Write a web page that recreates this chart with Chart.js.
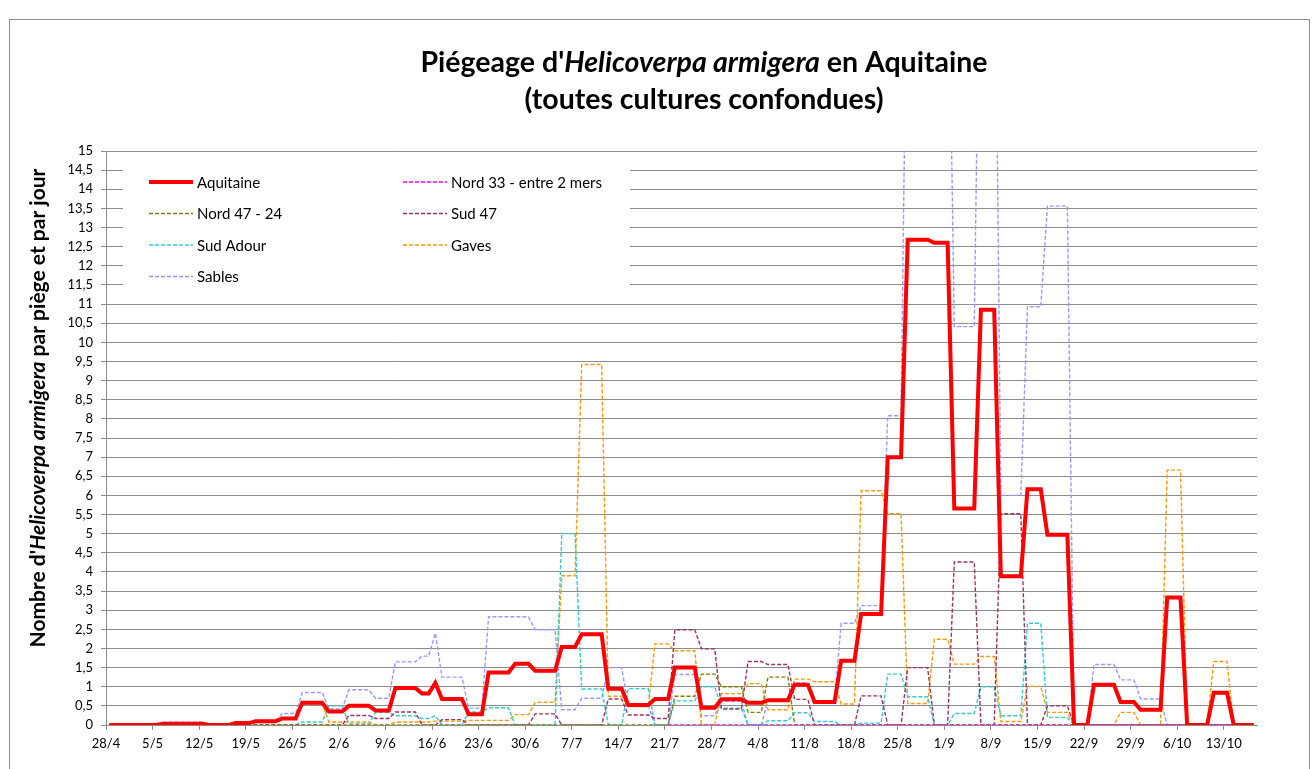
<!DOCTYPE html>
<html>
<head>
<meta charset="utf-8">
<script src="https://cdn.jsdelivr.net/npm/chart.js@4.4.0/dist/chart.umd.min.js"></script>
<style>
  body { margin: 0; background: #fff; }
  #wrap { width: 1316px; height: 769px; }
</style>
</head>
<body>
<div id="wrap"><canvas id="myChart" width="1316" height="769"></canvas></div>
<script>
// day 0 = 28/4, one point per day, [day, value] at each change of level
const weekLabels = ['28/4', '5/5', '12/5', '19/5', '26/5', '2/6', '9/6', '16/6', '23/6', '30/6',
    '7/7', '14/7', '21/7', '28/7', '4/8', '11/8', '18/8', '25/8', '1/9', '8/9', '15/9',
    '22/9', '29/9', '6/10', '13/10'];

const seriesNames = ['Aquitaine', 'Nord 33 - entre 2 mers', 'Nord 47 - 24', 'Sud 47', 'Sud Adour', 'Gaves', 'Sables'];

const aquitaine = [[0,0],[7,0],[8,0.03],[14,0.03],[15,0],[18,0],[19,0.05],[21,0.05],[22,0.1],[25,0.1],
    [26,0.17],[28,0.17],[29,0.58],[32,0.58],[33,0.35],[35,0.35],[36,0.5],[39,0.5],[40,0.38],[42,0.38],
    [43,0.97],[46,0.97],[47,0.82],[48,0.82],[49,1.1],[50,0.68],[53,0.68],[54,0.28],[56,0.28],[57,1.37],
    [60,1.37],[61,1.6],[63,1.6],[64,1.42],[67,1.42],[68,2.04],[70,2.04],[71,2.37],[74,2.37],[75,0.95],
    [77,0.95],[78,0.52],[81,0.52],[82,0.68],[84,0.68],[85,1.5],[88,1.5],[89,0.45],[91,0.45],[92,0.67],
    [95,0.67],[96,0.58],[98,0.58],[99,0.65],[102,0.65],[103,1.05],[105,1.05],[106,0.6],[109,0.6],
    [110,1.68],[112,1.68],[113,2.9],[116,2.9],[117,7.0],[119,7.0],[120,12.68],[123,12.68],[124,12.6],
    [126,12.6],[127,5.66],[130,5.66],[131,10.85],[133,10.85],[134,3.89],[137,3.89],[138,6.16],[140,6.16],
    [141,4.97],[144,4.97],[145,0],[147,0],[148,1.05],[151,1.05],[152,0.6],[154,0.6],[155,0.4],[158,0.4],
    [159,3.33],[161,3.33],[162,0],[165,0],[166,0.84],[168,0.84],[169,0],[172,0]];

const nord33 = [[84,0],[172,0]];

const nord4724 = [[0,0],[84,0],[85,0.75],[88,0.75],[89,1.33],[91,1.33],[92,1.0],[95,1.0],[96,0.33],
    [98,0.33],[99,1.25],[102,1.25],[103,0],[172,0]];

const sud47 = [[0,0],[35,0],[36,0.25],[39,0.25],[40,0.17],[42,0.17],[43,0.34],[46,0.34],[47,0],[49,0],
    [50,0.14],[53,0.14],[54,0],[63,0],[64,0.29],[67,0.29],[68,0],[74,0],[75,0.68],[77,0.68],[78,0.26],
    [81,0.26],[82,0.17],[84,0.17],[85,2.49],[88,2.49],[89,1.99],[91,1.99],[92,0.42],[95,0.42],[96,1.66],
    [98,1.66],[99,1.58],[102,1.58],[103,0.67],[105,0.67],[106,0],[112,0],[113,0.76],[116,0.76],[117,0],
    [119,0],[120,1.5],[123,1.5],[124,0],[126,0],[127,4.26],[130,4.26],[131,0],[133,0],[134,5.52],
    [137,5.52],[138,0],[140,0],[141,0.5],[144,0.5],[145,0],[172,0]];

const sudAdour = [[0,0],[28,0],[29,0.08],[32,0.08],[33,0.5],[35,0.5],[36,0.03],[39,0.03],[40,0.33],
    [42,0.33],[43,0.24],[46,0.24],[47,0.17],[48,0.17],[49,0.24],[50,0],[53,0],[54,0.34],[56,0.34],
    [57,0.45],[60,0.45],[61,0],[67,0],[68,5.0],[70,5.0],[71,0.94],[74,0.94],[75,0],[77,0],[78,0.95],
    [81,0.95],[82,0],[84,0],[85,0.63],[88,0.63],[89,1.0],[91,1.0],[92,0.44],[95,0.44],[96,0],[98,0],
    [99,0.11],[102,0.11],[103,0.32],[105,0.32],[106,0.09],[109,0.09],[110,0],[112,0],[113,0.05],
    [116,0.05],[117,1.33],[119,1.33],[120,0.74],[123,0.74],[124,0],[126,0],[127,0.3],[130,0.3],
    [131,1.0],[133,1.0],[134,0.24],[137,0.24],[138,2.66],[140,2.66],[141,0.2],[144,0.2],[145,0],[172,0]];

const gaves = [[0,0],[7,0],[8,0.02],[14,0.02],[15,0],[18,0],[19,0.08],[21,0.08],[22,0.12],[25,0.12],
    [26,0.17],[28,0.17],[29,0.55],[32,0.55],[33,0.08],[39,0.08],[40,0],[42,0],[43,0.08],[48,0.08],
    [49,0.1],[53,0.1],[54,0.12],[60,0.12],[61,0.27],[63,0.27],[64,0.59],[67,0.59],[68,3.9],[70,3.9],
    [71,9.42],[74,9.42],[75,0.75],[77,0.75],[78,0.48],[81,0.48],[82,2.12],[84,2.12],[85,1.94],[88,1.94],
    [89,0],[91,0],[92,0.82],[95,0.82],[96,1.08],[98,1.08],[99,0.4],[102,0.4],[103,1.2],[105,1.2],
    [106,1.13],[109,1.13],[110,0.55],[112,0.55],[113,6.12],[116,6.12],[117,5.52],[119,5.52],[120,0.56],
    [123,0.56],[124,2.24],[126,2.24],[127,1.59],[130,1.59],[131,1.79],[133,1.79],[134,0.09],[137,0.09],
    [138,1.01],[140,1.01],[141,0.33],[144,0.33],[145,0],[151,0],[152,0.33],[154,0.33],[155,0],[158,0],
    [159,6.66],[161,6.66],[162,0],[165,0],[166,1.66],[168,1.66],[169,0],[172,0]];

const sables = [[0,0],[7,0],[8,0.07],[14,0.07],[15,0],[18,0],[19,0.05],[21,0.05],[22,0.1],[25,0.1],
    [26,0.3],[28,0.3],[29,0.85],[32,0.85],[33,0.42],[35,0.42],[36,0.92],[39,0.92],[40,0.7],[42,0.7],
    [43,1.65],[46,1.65],[47,1.8],[48,1.8],[49,2.4],[50,1.25],[53,1.25],[54,0.44],[56,0.44],[57,2.83],
    [63,2.83],[64,2.49],[67,2.49],[68,0.4],[70,0.4],[71,0.7],[74,0.7],[75,1.5],[77,1.5],[78,0.52],
    [81,0.52],[82,0],[84,0],[85,1.32],[88,1.32],[89,0.24],[91,0.24],[92,0.62],[95,0.62],[96,0],[98,0],
    [99,0.67],[102,0.67],[103,1.1],[105,1.1],[106,0.62],[109,0.62],[110,2.66],[112,2.66],[113,3.12],
    [116,3.12],[117,8.08],[119,8.08],[120,22],[126,22],[127,10.41],[130,10.41],[131,23],[133,23],
    [134,6.0],[137,6.0],[138,10.93],[140,10.93],[141,13.56],[144,13.56],[145,0],[147,0],[148,1.58],
    [151,1.58],[152,1.18],[154,1.18],[155,0.68],[158,0.68],[159,0],[172,0]];

const seriesData = [aquitaine, nord33, nord4724, sud47, sudAdour, gaves, sables];
const seriesColors = ['#ff0000', '#ff00ff', '#808000', '#993366', '#33cccc', '#ff9900', '#9999ff'];

const FONT = 'Lato, "Open Sans", sans-serif';

function toPoints(pairs) {
    return pairs.map(p => ({ x: p[0], y: p[1] }));
}

const datasets = seriesNames.map((name, i) => ({
    label: name,
    data: toPoints(seriesData[i]),
    borderColor: seriesColors[i],
    backgroundColor: seriesColors[i],
    borderWidth: i === 0 ? 4 : 1.4,
    borderDash: i === 0 ? [] : [4, 2],
    pointRadius: 0,
    tension: 0,
    fill: false
}));

// white frame + chart border
const framePlugin = {
    id: 'frame',
    beforeDraw(chart) {
        const ctx = chart.ctx;
        ctx.save();
        ctx.fillStyle = '#fff';
        ctx.fillRect(0, 0, chart.width, chart.height);
        ctx.strokeStyle = '#8c8c8c';
        ctx.lineWidth = 1;
        ctx.strokeRect(9.5, 19.5, 1300, 770);
        ctx.restore();
    }
};

// draw mixed roman / italic text runs centred on x
function drawRuns(ctx, runs, size, cx, cy) {
    let total = 0;
    runs.forEach(r => {
        ctx.font = (r.italic ? 'italic ' : '') + 'bold ' + size + 'px ' + FONT;
        r.w = ctx.measureText(r.text).width;
        total += r.w;
    });
    let x = cx - total / 2;
    runs.forEach(r => {
        ctx.font = (r.italic ? 'italic ' : '') + 'bold ' + size + 'px ' + FONT;
        ctx.fillText(r.text, x, cy);
        x += r.w;
    });
}

const titlePlugin = {
    id: 'titles',
    afterDraw(chart) {
        const ctx = chart.ctx;
        ctx.save();
        ctx.fillStyle = '#000';
        ctx.textBaseline = 'middle';
        ctx.textAlign = 'left';
        drawRuns(ctx, [
            { text: "Piégeage d'" },
            { text: 'Helicoverpa armigera', italic: true },
            { text: ' en Aquitaine' }
        ], 28.5, 704, 63);
        drawRuns(ctx, [{ text: '(toutes cultures confondues)' }], 28.5, 704, 100);

        ctx.translate(38, 408);
        ctx.rotate(-Math.PI / 2);
        drawRuns(ctx, [
            { text: "Nombre d'" },
            { text: 'Helicoverpa armigera', italic: true },
            { text: ' par piège et par jour' }
        ], 21, 0, 0);
        ctx.restore();
    }
};

// legend box inside the plot, two columns
const legendPlugin = {
    id: 'boxLegend',
    beforeDatasetsDraw(chart) {
        const ctx = chart.ctx;
        const a = chart.chartArea;
        ctx.save();
        ctx.fillStyle = '#fff';
        ctx.fillRect(a.left + 17, a.top + 12, 507, 131);
        ctx.font = '15px ' + FONT;
        ctx.textBaseline = 'middle';
        ctx.fillStyle = '#000';
        chart.data.datasets.forEach((ds, i) => {
            const col = i % 2;
            const row = Math.floor(i / 2);
            const x = a.left + 43 + col * 254;
            const y = a.top + 31 + row * 31.5;
            ctx.strokeStyle = ds.borderColor;
            ctx.lineWidth = ds.borderWidth;
            ctx.setLineDash(ds.borderDash);
            ctx.beginPath();
            ctx.moveTo(x, y);
            ctx.lineTo(x + 44, y);
            ctx.stroke();
            ctx.setLineDash([]);
            ctx.fillText(ds.label, x + 48, y + 1);
        });
        ctx.restore();
    }
};

const ctx = document.getElementById('myChart');

new Chart(ctx, {
    type: 'line',
    data: { datasets: datasets },
    plugins: [framePlugin, legendPlugin, titlePlugin],
    options: {
        responsive: false,
        animation: false,
        devicePixelRatio: 1,
        layout: { padding: { left: 50, right: 59, top: 151, bottom: 10 } },
        plugins: {
            legend: { display: false },
            title: { display: false },
            tooltip: { enabled: false }
        },
        scales: {
            x: {
                type: 'linear',
                min: -0.5,
                max: 172.5,
                afterBuildTicks: scale => {
                    scale.ticks = weekLabels.map((l, i) => ({ value: i * 7 - 0.5 }));
                },
                afterFit: scale => { scale.height = 34; },
                grid: { drawOnChartArea: false, drawTicks: true, tickLength: 5, color: '#8c8c8c' },
                border: { color: '#8c8c8c' },
                ticks: {
                    autoSkip: false,
                    maxRotation: 0,
                    padding: 6,
                    color: '#000',
                    font: { family: FONT, size: 13 },
                    callback: (value, index) => weekLabels[index]
                }
            },
            y: {
                min: 0,
                max: 15,
                afterFit: scale => { scale.width = 56; },
                grid: { color: '#8c8c8c', tickLength: 5 },
                border: { color: '#8c8c8c' },
                ticks: {
                    stepSize: 0.5,
                    autoSkip: false,
                    padding: 8,
                    color: '#000',
                    font: { family: FONT, size: 13 },
                    callback: value => String(value).replace('.', ',')
                }
            }
        }
    }
});
</script>
</body>
</html>
